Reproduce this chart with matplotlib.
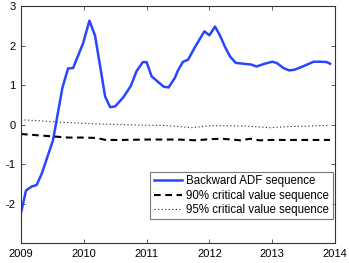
import matplotlib
matplotlib.use("Agg")
import matplotlib.pyplot as plt

plt.rcParams['font.family'] = ['Liberation Sans', 'DejaVu Sans']

# Backward ADF sequence (decimal year, value)
adf_t = [2009.00, 2009.08, 2009.17, 2009.25, 2009.33, 2009.51, 2009.66, 2009.75,
         2009.83, 2009.99, 2010.09, 2010.18, 2010.34, 2010.42, 2010.50, 2010.63,
         2010.75, 2010.84, 2010.94, 2011.00, 2011.08, 2011.19, 2011.27, 2011.35,
         2011.45, 2011.50, 2011.58, 2011.66, 2011.77, 2011.92, 2012.00, 2012.09,
         2012.17, 2012.25, 2012.33, 2012.42, 2012.54, 2012.66, 2012.75, 2012.88,
         2013.00, 2013.07, 2013.18, 2013.27, 2013.36, 2013.50, 2013.66, 2013.79,
         2013.87, 2013.92]
adf_v = [-2.25, -1.67, -1.57, -1.53, -1.25, -0.40, 0.93, 1.42,
         1.43, 2.06, 2.63, 2.25, 0.71, 0.44, 0.46, 0.69,
         0.98, 1.35, 1.58, 1.58, 1.22, 1.07, 0.96, 0.94,
         1.18, 1.37, 1.59, 1.64, 1.96, 2.36, 2.26, 2.48,
         2.25, 1.96, 1.72, 1.56, 1.54, 1.52, 1.47, 1.54,
         1.59, 1.56, 1.43, 1.37, 1.39, 1.48, 1.59, 1.59,
         1.58, 1.54]

# 90% critical value sequence
cv90_t = [2009.00, 2009.25, 2009.50, 2009.75, 2010.00, 2010.20, 2010.35, 2010.60,
          2011.00, 2011.50, 2011.80, 2012.00, 2012.20, 2012.50, 2012.65, 2012.80,
          2013.00, 2013.50, 2013.92]
cv90_v = [-0.24, -0.27, -0.30, -0.33, -0.33, -0.34, -0.39, -0.39,
          -0.38, -0.38, -0.40, -0.37, -0.36, -0.40, -0.36, -0.40,
          -0.39, -0.39, -0.39]

# 95% critical value sequence
cv95_t = [2009.00, 2009.25, 2009.50, 2009.75, 2010.00, 2010.30, 2010.60, 2011.00,
          2011.25, 2011.50, 2011.72, 2012.00, 2012.30, 2012.60, 2012.97, 2013.30,
          2013.60, 2013.92]
cv95_v = [0.12, 0.10, 0.07, 0.05, 0.03, 0.01, 0.00, -0.02,
          -0.02, -0.05, -0.08, -0.03, -0.03, -0.04, -0.08, -0.05,
          -0.04, -0.02]

xticks = [2009, 2010, 2011, 2012, 2013, 2014]
yticks = [-2, -1, 0, 1, 2, 3]

fig = plt.figure(figsize=(3.49, 2.63), dpi=100)
ax = fig.add_axes([0.060, 0.076, 0.900, 0.901])

ax.plot(adf_t, adf_v, color='#2a45ff', lw=1.8, label='Backward ADF sequence')
ax.plot(cv90_t, cv90_v, color='black', lw=1.5, ls=(0, (3.2, 2.2)), label='90% critical value sequence')
ax.plot(cv95_t, cv95_v, color='#222222', lw=0.8, ls=(0, (1, 2.2)), label='95% critical value sequence')

ax.set_xlim(2009, 2014)
ax.set_ylim(-3, 3)
ax.set_xticks(xticks)
ax.set_xticklabels([str(t) for t in xticks])
ax.set_yticks(yticks)
ax.set_yticklabels([str(t) for t in yticks])
ax.tick_params(direction='in', top=True, right=True, length=3, width=0.6,
               labelsize=8, pad=4, color='#444444')
for s in ax.spines.values():
    s.set_linewidth(0.8)
    s.set_color('#333333')

leg = ax.legend(loc='lower right', bbox_to_anchor=(0.992, 0.10), fontsize=8.3,
                frameon=True, fancybox=False, handlelength=2.4,
                borderpad=0.3, labelspacing=0.2, handletextpad=0.4, borderaxespad=0)
leg.get_frame().set_edgecolor('#555555')
leg.get_frame().set_linewidth(0.8)

fig.savefig('out.png', dpi=100)
